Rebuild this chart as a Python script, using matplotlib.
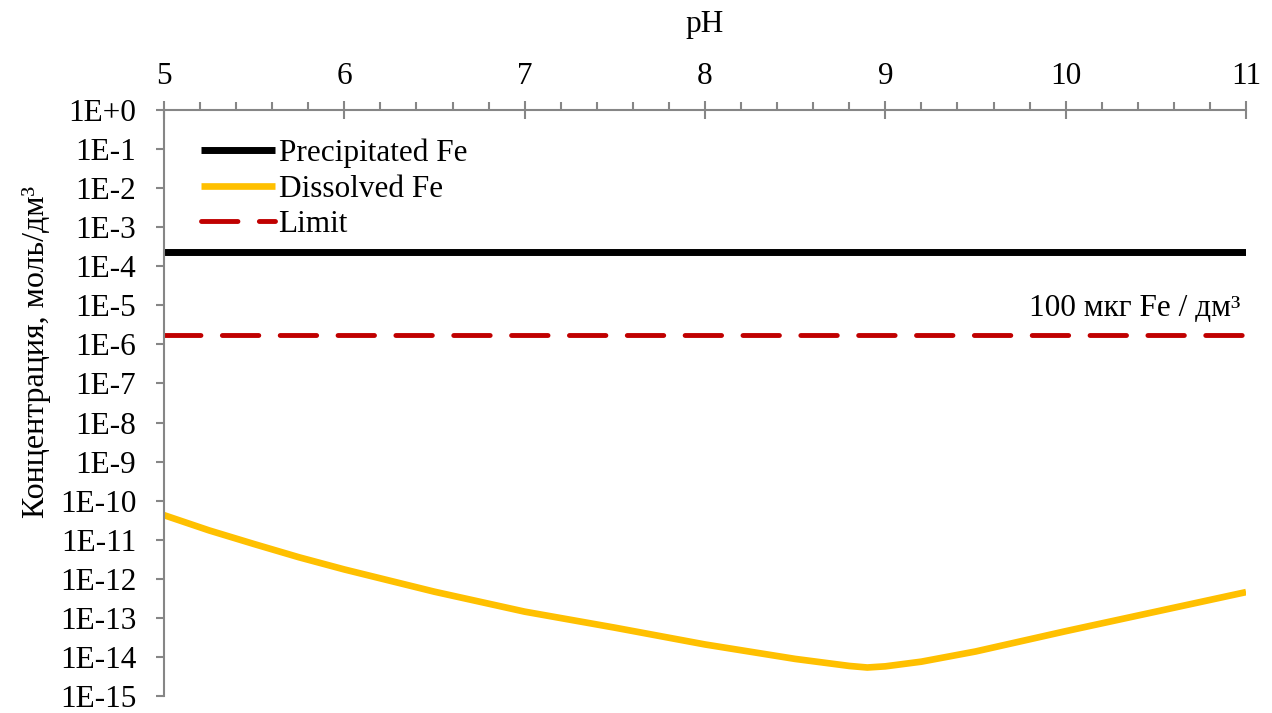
import matplotlib
matplotlib.use('agg')
import matplotlib.pyplot as plt
from matplotlib.ticker import FixedLocator, MultipleLocator, NullLocator

# data
ph_range = [5, 11]
precipitated_fe = [2.3e-4, 2.3e-4]
limit_fe = [1.79e-6, 1.79e-6]  # 100 мкг Fe / дм3

ph_dissolved = [5.0, 5.25, 5.5, 5.75, 6.0, 6.5, 7.0, 7.5, 8.0, 8.5, 8.8, 8.9, 9.0, 9.2, 9.5, 10.0, 10.5, 11.0]
log_dissolved = [-10.37, -10.76, -11.11, -11.45, -11.76, -12.33, -12.84, -13.25, -13.68, -14.05, -14.23,
                 -14.27, -14.24, -14.12, -13.86, -13.34, -12.84, -12.34]
dissolved_fe = [10 ** v for v in log_dissolved]

y_ticks = [10.0 ** -k for k in range(0, 16)]
y_labels = ['1E+0'] + ['1E-%d' % k for k in range(1, 16)]

GREY = '#868686'
FS = 22.5
plt.rcParams['font.family'] = ['Liberation Serif', 'DejaVu Serif']

fig = plt.figure(figsize=(12.72, 7.13), dpi=100)
ax = fig.add_axes([0.1289, 0.0238, 0.8507, 0.8219])

ax.plot(ph_range, precipitated_fe, color='black', lw=5, solid_capstyle='butt', label='Precipitated Fe')
ax.plot(ph_dissolved, dissolved_fe, color='#FFC000', lw=4.8, solid_capstyle='butt',
        solid_joinstyle='round', label='Dissolved Fe')
ax.plot(ph_range, limit_fe, color='#C00000', lw=3.5, dashes=(7.5, 4.4), dash_capstyle='round',
        label='Limit')

ax.set_yscale('log')
ax.set_xlim(5, 11)
ax.set_ylim(1e-15, 1)
ax.yaxis.set_major_locator(FixedLocator(y_ticks))
ax.set_yticklabels(y_labels)
ax.yaxis.set_minor_locator(NullLocator())

ax.xaxis.tick_top()
ax.xaxis.set_label_position('top')
ax.xaxis.set_major_locator(MultipleLocator(1))
ax.xaxis.set_minor_locator(MultipleLocator(0.2))
ax.set_xlabel('pH', fontsize=FS, labelpad=22)
ax.set_ylabel('Концентрация, моль/дм³', fontsize=23)
ax.yaxis.set_label_coords(-0.104, 0.587)

for s in ['right', 'bottom']:
    ax.spines[s].set_visible(False)
for s in ['top', 'left']:
    ax.spines[s].set_color(GREY)
    ax.spines[s].set_linewidth(1.5)

ax.tick_params(axis='x', which='major', direction='inout', length=13, width=1.5, color=GREY,
               labelsize=FS, pad=7)
ax.tick_params(axis='x', which='minor', direction='out', length=6, width=1.5, color=GREY)
ax.tick_params(axis='y', which='major', direction='out', length=6, width=1.5, color=GREY,
               labelsize=FS, pad=14)

ax.text(10.97, 3.5e-6, '100 мкг Fe / дм³', fontsize=FS, ha='right', va='bottom')

ax.legend(loc='upper left', bbox_to_anchor=(0.023, 0.972), frameon=False, fontsize=FS,
          handlelength=2.35, handletextpad=0.12, labelspacing=0.2, borderaxespad=0)

fig.savefig('out.png', dpi=100)
